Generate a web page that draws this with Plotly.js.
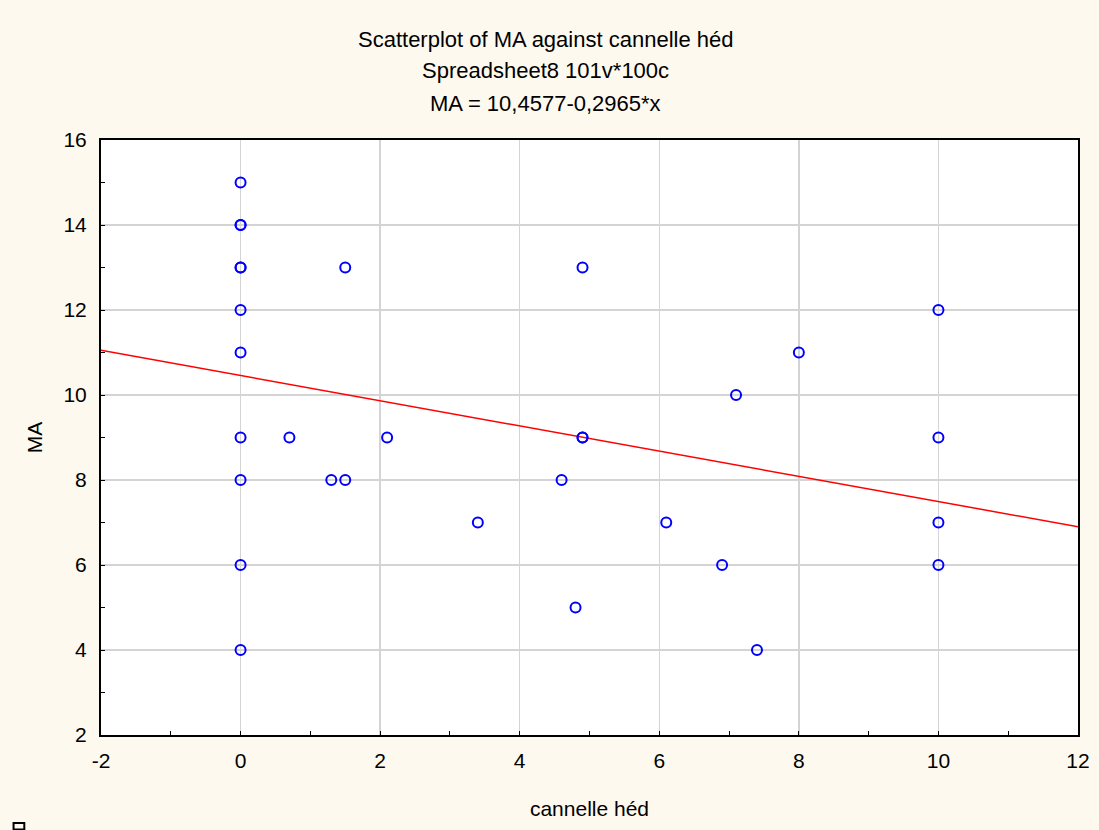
<!DOCTYPE html>
<html>
<head>
<meta charset="utf-8">
<script src="https://cdn.plot.ly/plotly-3.0.1.min.js"></script>
<style>html,body{margin:0;padding:0;background:#FDF9EF;}</style>
</head>
<body>
<div id="chart" style="width:1099px;height:830px;"></div>
<script>
// Data
const xVals = [0, 0, 0, 0, 0, 0, 0, 0, 0, 0, 0, 0.7, 1.3, 1.5, 1.5, 2.1, 3.4, 4.6, 4.8, 4.9, 4.9, 4.9, 6.1, 6.9, 7.1, 7.4, 8, 10, 10, 10, 10];
const yVals = [15, 14, 14, 13, 13, 12, 11, 9, 8, 6, 4, 9, 8, 8, 13, 9, 7, 8, 5, 13, 9, 9, 7, 6, 10, 4, 11, 12, 9, 7, 6];
const intercept = 10.4577;
const slope = -0.2965;
const xRange = [-2, 12];
const yRange = [2, 16];
const xTickVals = [-2, 0, 2, 4, 6, 8, 10, 12];
const xTickText = ["-2", "0", "2", "4", "6", "8", "10", "12"];
const yTickVals = [2, 4, 6, 8, 10, 12, 14, 16];
const yTickText = ["2", "4", "6", "8", "10", "12", "14", "16"];
const titleLines = ["Scatterplot of MA against cannelle héd", "Spreadsheet8 101v*100c", "MA = 10,4577-0,2965*x"];
const xTitle = "cannelle héd";
const yTitle = "MA";

const fitX = xRange.slice();
const fitY = fitX.map(x => intercept + slope * x);

const font = {family: "Liberation Sans, Arial, sans-serif", size: 21, color: "#000"};
const titleY = [1.1697, 1.116, 1.062];

const traces = [
  {x: fitX, y: fitY, type: "scatter", mode: "lines", line: {color: "#FF0000", width: 1.5}, hoverinfo: "skip"},
  {x: xVals, y: yVals, type: "scatter", mode: "markers",
   marker: {symbol: "circle-open", size: 10, color: "#0000FF", line: {width: 2, color: "#0000FF"}}}
];

const layout = {
  width: 1099, height: 830,
  margin: {l: 101, r: 21, t: 140, b: 95},
  paper_bgcolor: "#FDF9EF",
  plot_bgcolor: "#FFFFFF",
  showlegend: false,
  font: font,
  xaxis: {
    range: xRange, tickmode: "array", tickvals: xTickVals, ticktext: xTickText,
    showgrid: true, gridcolor: "#D4D4D4", gridwidth: 1.5,
    zeroline: false, showline: true, linecolor: "#000", linewidth: 2, mirror: true,
    ticks: "inside", ticklen: 4, tickcolor: "#000",
    minor: {dtick: 1, tick0: 0, ticks: "inside", ticklen: 4, tickcolor: "#000", showgrid: false},
    tickfont: {size: 21}, ticklabelstandoff: 6,
    title: {text: xTitle, font: {size: 21}, standoff: 30}
  },
  yaxis: {
    range: yRange, tickmode: "array", tickvals: yTickVals, ticktext: yTickText,
    showgrid: true, gridcolor: "#D4D4D4", gridwidth: 1.5,
    zeroline: false, showline: true, linecolor: "#000", linewidth: 2, mirror: true,
    ticks: "inside", ticklen: 4, tickcolor: "#000",
    minor: {dtick: 1, tick0: 0, ticks: "inside", ticklen: 4, tickcolor: "#000", showgrid: false},
    tickfont: {size: 21}, ticklabelstandoff: 8,
    title: {text: yTitle, font: {size: 21}, standoff: 15}
  },
  annotations: titleLines.map((t, i) => ({
    text: t, xref: "paper", yref: "paper", x: 0.4545, y: titleY[i],
    xanchor: "center", yanchor: "middle", showarrow: false, font: {size: 22}
  })),
  shapes: [
    {type: "rect", xref: "paper", yref: "paper", x0: -0.0895, x1: -0.0785, y0: -0.148, y1: -0.159,
     line: {color: "#000", width: 2}, fillcolor: "rgba(0,0,0,0)"}
  ]
};

Plotly.newPlot("chart", traces, layout, {displayModeBar: false, staticPlot: true});
</script>
</body>
</html>
